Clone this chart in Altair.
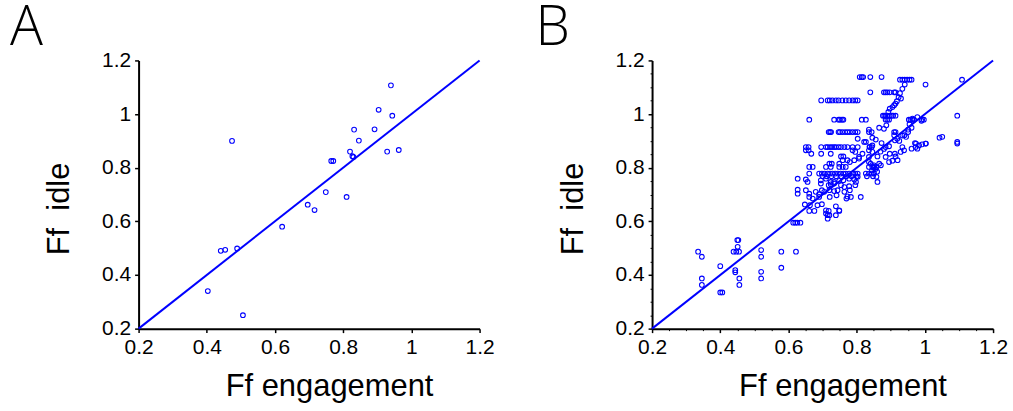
import altair as alt
import pandas as pd

# ---------------- Panel A ----------------
xa = [0.940, 0.904, 0.944, 0.832, 0.892, 0.846, 0.474, 0.820, 0.929, 0.963, 0.827, 0.830,
      0.765, 0.771, 0.749, 0.810, 0.696, 0.716, 0.621, 0.441, 0.454, 0.489, 0.403, 0.506]
ya = [1.107, 1.016, 0.994, 0.942, 0.943, 0.901, 0.900, 0.860, 0.860, 0.866, 0.843, 0.840,
      0.825, 0.825, 0.709, 0.691, 0.662, 0.642, 0.580, 0.490, 0.494, 0.499, 0.340, 0.250]

# ---------------- Panel B ----------------
# rows of points that share one idle value
rows_b = [
    (1.138, [0.809, 0.815, 0.819, 0.840, 0.873]),
    (1.128, [0.927, 0.934, 0.941, 0.948, 0.955, 0.961, 1.109]),
    (1.081, [0.840, 0.880, 0.885, 0.890, 0.897, 0.910, 0.914]),
    (1.051, [0.696, 0.715, 0.721, 0.729, 0.739, 0.747, 0.758, 0.768, 0.778, 0.788, 0.796, 0.803]),
    (0.994, [0.877, 0.881, 0.885, 0.890, 0.897, 0.903, 0.907, 0.914, 1.095]),
    (0.979, [0.661, 0.734, 0.747, 0.751, 0.757, 0.761, 0.815, 0.827, 0.885, 0.890, 0.895,
             0.953, 0.958, 0.963, 0.968, 0.992, 0.997]),
    (0.933, [0.718, 0.722, 0.725, 0.747, 0.751, 0.758, 0.766, 0.773, 0.780, 0.788, 0.796,
             0.803, 0.836, 0.844, 0.910, 0.914, 0.951]),
    (0.877, [0.651, 0.659, 0.696, 0.710, 0.715, 0.722, 0.728, 0.734, 0.739, 0.747, 0.754,
             0.764, 0.773, 0.788, 0.803, 0.838, 0.844, 0.885, 0.934]),
    (0.803, [0.661, 0.671, 0.710, 0.724, 0.749, 0.759, 0.768, 0.836, 0.846, 0.851, 0.858]),
    (0.778, [0.661, 0.690, 0.698, 0.706, 0.715, 0.722, 0.729, 0.737, 0.745, 0.753, 0.761,
             0.768, 0.778, 0.788, 0.796, 0.803, 0.827, 0.836, 0.844, 0.851]),
    (0.768, [0.700, 0.712, 0.726, 0.740, 0.755, 0.770, 0.785, 0.800, 0.830, 0.848]),
    (0.595, [0.614, 0.620, 0.626, 0.635]),
]

# scattered points (engagement, idle)
xb_free = [0.941, 0.934, 0.927, 0.923, 0.918, 0.914, 0.910, 0.905, 0.897, 0.893, 1.002,
           0.866, 0.836, 0.880, 0.887, 0.955, 0.961, 0.951, 0.990, 0.964, 0.978, 0.930,
           0.803, 0.856, 0.827, 0.822, 0.846, 0.873, 0.912, 0.919, 0.934, 1.051, 1.043, 0.838,
           1.095, 1.095, 1.002, 0.992, 0.983, 0.971, 0.973, 0.961, 0.978, 0.846, 0.836,
           0.940, 0.910, 0.974, 1.003, 0.870, 0.880, 0.895, 0.925, 0.945,
           0.651, 0.659, 0.667, 0.696, 0.724, 0.754, 0.761, 0.788, 0.796, 0.807, 0.817,
           0.836, 0.846, 0.861, 0.885, 0.897, 0.912, 0.914, 0.929, 0.939,
           0.720, 0.727, 0.749, 0.759, 0.773, 0.780, 0.793, 0.807, 0.836, 0.841, 0.851,
           0.866, 0.871, 0.895, 0.905, 0.920, 0.845, 0.855, 0.860, 0.850,
           0.627, 0.651, 0.656, 0.695, 0.710, 0.724, 0.734, 0.749, 0.761, 0.778, 0.793,
           0.803, 0.858, 0.861,
           0.695, 0.718, 0.724, 0.734, 0.754, 0.764, 0.778, 0.796, 0.798,
           0.627, 0.627, 0.651, 0.661, 0.680, 0.690, 0.698, 0.705, 0.720, 0.734, 0.744,
           0.764, 0.773, 0.780,
           0.661, 0.671, 0.690, 0.721, 0.741, 0.770, 0.783, 0.812,
           0.648, 0.663, 0.685, 0.698, 0.739, 0.749,
           0.661, 0.676, 0.710, 0.718, 0.739, 0.749,
           0.710, 0.715, 0.715, 0.720,
           0.450, 0.453, 0.451, 0.439, 0.447, 0.455, 0.520, 0.520, 0.579, 0.622, 0.335,
           0.346, 0.400, 0.444, 0.444, 0.456, 0.456, 0.520, 0.520, 0.579, 0.346, 0.346,
           0.400, 0.406]
yb_free = [1.110, 1.094, 1.078, 1.063, 1.048, 1.039, 1.033, 1.026, 1.020, 1.008, 1.110,
           0.949, 0.942, 0.945, 0.958, 0.962, 0.949, 0.942, 0.975, 0.983, 0.989, 1.058,
           0.908, 0.905, 0.896, 0.896, 0.912, 0.892, 0.902, 0.908, 0.920, 0.915, 0.912, 0.878,
           0.896, 0.890, 0.890, 0.887, 0.883, 0.892, 0.877, 0.871, 0.871, 0.883, 0.865,
           0.921, 0.921, 0.890, 0.890, 0.860, 0.870, 0.880, 0.900, 0.915,
           0.865, 0.865, 0.852, 0.852, 0.852, 0.842, 0.842, 0.865, 0.859, 0.840, 0.852,
           0.840, 0.859, 0.842, 0.840, 0.852, 0.852, 0.842, 0.859, 0.865,
           0.815, 0.815, 0.815, 0.828, 0.828, 0.821, 0.828, 0.834, 0.821, 0.815, 0.809,
           0.815, 0.809, 0.821, 0.826, 0.828, 0.790, 0.795, 0.785, 0.800,
           0.759, 0.756, 0.747, 0.753, 0.759, 0.747, 0.747, 0.751, 0.753, 0.759, 0.756,
           0.766, 0.766, 0.747,
           0.741, 0.735, 0.738, 0.741, 0.735, 0.728, 0.731, 0.735, 0.747,
           0.718, 0.703, 0.716, 0.703, 0.710, 0.701, 0.716, 0.710, 0.716, 0.713, 0.716,
           0.710, 0.693, 0.716,
           0.691, 0.685, 0.691, 0.691, 0.697, 0.685, 0.691, 0.691,
           0.663, 0.660, 0.660, 0.664, 0.656, 0.641,
           0.639, 0.639, 0.641, 0.639, 0.623, 0.639,
           0.629, 0.623, 0.610, 0.623,
           0.530, 0.530, 0.505, 0.487, 0.487, 0.487, 0.493, 0.468, 0.487, 0.487, 0.487,
           0.468, 0.433, 0.418, 0.410, 0.387, 0.363, 0.412, 0.387, 0.427, 0.387, 0.363,
           0.335, 0.335]

diag = [0.2, 1.2]
major_ticks = [0.2, 0.4, 0.6, 0.8, 1.0, 1.2]
minor_ticks = [0.25, 0.3, 0.35, 0.45, 0.5, 0.55, 0.65, 0.7, 0.75, 0.85, 0.9, 0.95, 1.05, 1.1, 1.15]

xb, yb = [], []
for yv, xs in rows_b:
    xb += xs
    yb += [yv] * len(xs)
xb += xb_free
yb += yb_free

df_a = pd.DataFrame({"x": xa, "y": ya})
df_b = pd.DataFrame({"x": xb, "y": yb})
df_line = pd.DataFrame({"x": diag, "y": diag})

BLUE = "#0000ff"
W, H = 342, 269
scale = alt.Scale(domain=[0.2, 1.2], nice=False, zero=False)


def main_axis(title, orient):
    extra = {}
    if orient == "bottom":
        extra = dict(titlePadding=14, titleX=W / 2 + 20)
    else:
        extra = dict(titlePadding=26, titleY=H / 2 + 14)
    return alt.Axis(
        values=major_ticks, format="~g", orient=orient, grid=False,
        labelFont="Liberation Sans", labelFontSize=21, labelColor="black",
        labelFlush=False, labelOverlap=False, labelPadding=4,
        title=title, titleFont="Liberation Sans", titleFontSize=31,
        titleFontWeight="normal", titleColor="black",
        domainColor="black", domainWidth=2, tickColor="black", tickSize=4, tickWidth=1.5,
        **extra,
    )


def minor_axis(orient):
    return alt.Axis(
        values=minor_ticks, orient=orient, grid=False, labels=False, domain=False,
        title=None, tickColor="black", tickSize=2, tickWidth=1,
    )


def panel(df, letter, dx, minor):
    pts = alt.Chart(df).mark_point(
        shape="circle", filled=False, size=22, strokeWidth=1.1, color=BLUE, opacity=1
    ).encode(
        x=alt.X("x:Q", scale=scale, axis=main_axis("Ff engagement", "bottom")),
        y=alt.Y("y:Q", scale=scale, axis=main_axis("Ff\u00a0 idle", "left")),
    )
    if minor:
        ln = alt.Chart(df_line).mark_line(color=BLUE, strokeWidth=2).encode(
            x=alt.X("x:Q", scale=scale, axis=minor_axis("bottom")),
            y=alt.Y("y:Q", scale=scale, axis=minor_axis("left")),
        )
        ch = alt.layer(pts, ln).resolve_axis(x="independent", y="independent")
    else:
        ln = alt.Chart(df_line).mark_line(color=BLUE, strokeWidth=2).encode(
            x=alt.X("x:Q", scale=scale), y=alt.Y("y:Q", scale=scale),
        )
        ch = alt.layer(pts, ln)
    return ch.properties(
        width=W, height=H,
        title=alt.TitleParams(
            letter, anchor="start", frame="group", dx=dx, dy=64, fontSize=55,
            font="Open Sans", fontWeight=300, color="black",
            baseline="alphabetic", offset=13,
        ),
    )


chart = alt.hconcat(
    panel(df_a, "A", -129, False),
    panel(df_b, "B", -117, True),
    spacing=173, bounds="flush",
).properties(
    padding={"left": 10, "top": 1, "right": 5, "bottom": 5},
    background="white",
).configure_view(stroke=None)

chart.save("out.html", embed_options={"renderer": "svg", "actions": False})
